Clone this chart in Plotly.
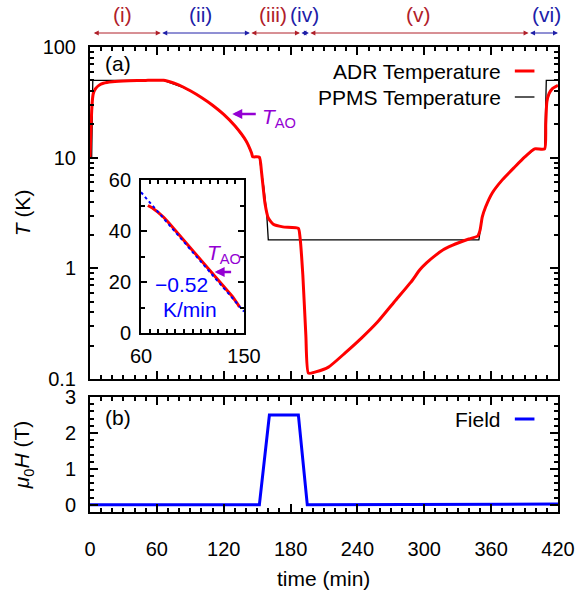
import plotly.graph_objects as go

# ---------------- data ----------------
adr_t = [0, 1, 2, 3, 5, 8, 12, 20, 35, 50, 66, 70, 75, 80, 84, 90, 100, 110, 120, 130,
         140, 145, 146, 152, 154, 157, 160, 164.5, 173, 187, 188.5, 191, 193.7, 196,
         202.5, 214, 229, 243.6, 258, 273, 288, 296, 302, 310, 317, 325, 332, 340, 348,
         350, 352, 355, 361, 370, 381, 390, 399, 408, 409, 410, 412, 415, 420]
adr_T = [10, 20, 32, 38, 42, 45, 47, 48.5, 49.5, 49.9, 50, 49, 47.3, 45.3, 43.3, 40.2,
         35.0, 29.8, 24.6, 19.4, 14.2, 11.0, 10.2, 10.1, 7.3, 3.9, 2.85, 2.5, 2.37, 2.3,
         1.9, 0.87, 0.25, 0.113, 0.116, 0.128, 0.172, 0.234, 0.327, 0.497, 0.75, 0.97,
         1.12, 1.31, 1.47, 1.61, 1.72, 1.84, 1.96, 2.2, 2.9, 3.58, 4.8, 6.3, 8.2, 10.1,
         12.0, 12.0, 20, 32, 38, 42, 45]

ppms_t = [1.5, 2.5, 66, 70, 75, 80, 84, 90, 100, 110, 120, 130, 140, 145, 146, 152, 156,
          158.5, 160, 349, 352, 355, 361, 370, 381, 390, 399, 408, 409.5, 420]
ppms_T = [10, 50, 50, 48.5, 46.6, 44.5, 43.0, 40.2, 35.0, 29.8, 24.6, 19.4, 14.2, 11.0,
          10.2, 10.0, 5.4, 3.2, 1.81, 1.81, 2.9, 3.58, 4.8, 6.3, 8.2, 10.1, 12.0, 12.0,
          50, 50]

field_t = [0, 152, 161, 187, 195, 405, 407, 420]
field_H = [0, 0, 2.5, 2.5, 0, 0, 0.02, 0.02]

fit_t = [60, 150]
fit_T = [55.2, 8.4]

phase_labels = ["(i)", "(ii)", "(iii)", "(iv)", "(v)", "(vi)"]
phase_start = [2, 63.5, 143.5, 188.4, 196.4, 393.6]
phase_end = [63.5, 143.5, 188.4, 196.4, 393.6, 420]
phase_label_t = [29, 99.5, 164.5, 192.5, 295, 410]

x_ticks = [0, 60, 120, 180, 240, 300, 360, 420]

# ---------------- styling ----------------
FONT = "Liberation Sans, Arial, sans-serif"
RED = "#ff0000"
BLUE = "#0000ff"
PURPLE = "#9400d3"
DRED = "#b0202a"
DBLUE = "#2020a8"
phase_colors = [DRED, DBLUE, DRED, DBLUE, DRED, DBLUE]
FS = 21
TFS = 20

W, H = 587, 598
L, R, T, B = 90, 20, 47, 86
PW, PH = W - L - R, H - T - B


def px(xp):
    return (xp - L) / PW


def py(yp):
    return (H - B - yp) / PH


fig = go.Figure()

fig.add_trace(go.Scatter(x=ppms_t, y=ppms_T, mode="lines", line=dict(color="black", width=1.3),
                         xaxis="x", yaxis="y", showlegend=False))
fig.add_trace(go.Scatter(x=adr_t, y=adr_T, mode="lines",
                         line=dict(color=RED, width=3, shape="spline", smoothing=0.5),
                         xaxis="x", yaxis="y", showlegend=False))
fig.add_trace(go.Scatter(x=field_t, y=field_H, mode="lines", line=dict(color=BLUE, width=3),
                         xaxis="x2", yaxis="y2", showlegend=False))
# inset
ins_t = [t for t in adr_t if 60 <= t <= 150]
ins_T = [adr_T[i] for i, t in enumerate(adr_t) if 60 <= t <= 150]
fig.add_trace(go.Scatter(x=ins_t, y=ins_T, mode="lines", line=dict(color=RED, width=3),
                         xaxis="x3", yaxis="y3", showlegend=False))
fig.add_trace(go.Scatter(x=fit_t, y=fit_T, mode="lines", line=dict(color=BLUE, width=2, dash="dot"),
                         xaxis="x3", yaxis="y3", showlegend=False))

axis_common = dict(showline=True, linecolor="black", linewidth=2, mirror="ticks",
                   ticks="inside", tickcolor="black", tickwidth=1.5, showgrid=False,
                   zeroline=False, tickfont=dict(family=FONT, size=TFS, color="black"))

minor_log = [v * m for m in (0.1, 1, 10) for v in range(2, 10)]
mstyle = dict(ticklen=4, ticks="inside", tickcolor="black", tickwidth=1.5)

fig.update_layout(
    width=W, height=H, margin=dict(l=L, r=R, t=T, b=B),
    paper_bgcolor="white", plot_bgcolor="white",
    font=dict(family=FONT, size=FS, color="black"),
    xaxis=dict(axis_common, domain=[0, 1], range=[0, 420], anchor="y", tickvals=x_ticks,
               showticklabels=False, ticklen=8, minor=dict(mstyle, dtick=10)),
    yaxis=dict(axis_common, domain=[py(379), 1], type="log", range=[-1, 2], anchor="x",
               tickvals=[0.1, 1, 10, 100], ticktext=["0.1", "1", "10", "100"], ticklen=8,
               ticklabelstandoff=8, minor=dict(mstyle, tickvals=minor_log)),
    xaxis2=dict(axis_common, domain=[0, 1], range=[0, 420], anchor="y2", tickvals=x_ticks,
                ticklen=8, ticklabelstandoff=18, minor=dict(mstyle, dtick=10)),
    yaxis2=dict(axis_common, domain=[0, py(397)], range=[-0.2, 3], anchor="x2",
                tickvals=[0, 1, 2, 3], ticklen=8, ticklabelstandoff=8,
                minor=dict(mstyle, dtick=0.2, tick0=0)),
    xaxis3=dict(axis_common, domain=[px(142), px(247)], range=[60, 150], anchor="y3",
                tickvals=[60, 150], ticklen=6, ticklabelstandoff=4,
                minor=dict(mstyle, dtick=7.5, tick0=60)),
    yaxis3=dict(axis_common, domain=[py(333), py(180)], range=[0, 60], anchor="x3",
                tickvals=[0, 20, 40, 60], ticklen=6, ticklabelstandoff=4,
                minor=dict(mstyle, dtick=10, tick0=0)),
)

ann = []
shapes = []


def text(t, x, y, xa="center", size=FS, color="black", angle=0, xref="paper"):
    ann.append(dict(text=t, xref=xref, yref="paper", x=x, y=y, xanchor=xa, yanchor="middle",
                    textangle=angle, showarrow=False, font=dict(size=size, color=color)))


# axis titles
text("<i>T</i> (K)", px(22), py(213), angle=-90)
text("<i>μ</i><sub>0</sub><i>H</i> (T)", px(22), py(455), angle=-90)
text("time (min)", px(328), py(578))
# panel labels
text("(a)", px(103), py(64), xa="left")
text("(b)", px(103), py(417), xa="left")
# legends (samples to the right, gnuplot style)
for label, color, yl, lw in [("ADR Temperature", RED, 71, 3), ("PPMS Temperature", "black", 97, 1.3),
                             ("Field", BLUE, 419, 3)]:
    text(label, px(511), py(yl), xa="right")
    shapes.append(dict(type="line", xref="paper", yref="paper", x0=px(523), x1=px(543),
                       y0=py(yl), y1=py(yl), line=dict(color=color, width=lw)))
# T_AO markers
text("<i>T</i><sub>AO</sub>", px(263), py(118), xa="left", color=PURPLE)
ann.append(dict(text="", xref="paper", yref="paper", x=px(235), y=py(114), ax=25, ay=0,
                showarrow=True, arrowhead=2, arrowsize=0.8, arrowwidth=2.5, arrowcolor=PURPLE))
text("<i>T</i><sub>AO</sub>", px(207), py(254), xa="left", color=PURPLE)
ann.append(dict(text="", xref="paper", yref="paper", x=px(217), y=py(272), ax=18, ay=0,
                showarrow=True, arrowhead=2, arrowsize=0.8, arrowwidth=2.5, arrowcolor=PURPLE))
# inset slope text
text("−0.52", px(183), py(284), color=BLUE)
text("K/min", px(192), py(309), color=BLUE)
# phase arrows on top
for lab, s, e, lt, c in zip(phase_labels, phase_start, phase_end, phase_label_t, phase_colors):
    ann.append(dict(text="", xref="x", yref="paper", x=e, y=py(33), axref="x", ax=s,
                    ayref="pixel", ay=0, showarrow=True, arrowhead=2, arrowside="end+start",
                    arrowsize=1, arrowwidth=1, arrowcolor=c))
    text(lab, lt, py(15), color=c, xref="x")

fig.update_layout(annotations=ann, shapes=shapes)
fig.write_html("out.html")
